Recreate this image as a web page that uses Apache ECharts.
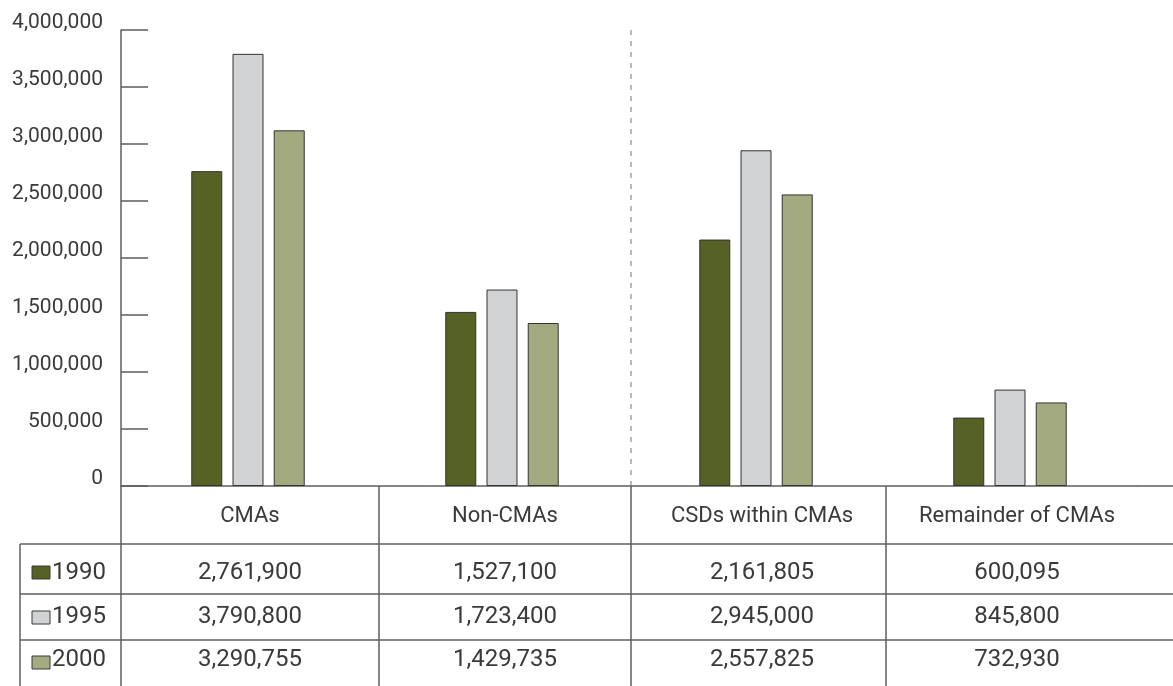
<!DOCTYPE html>
<html>
<head>
<meta charset="utf-8">
<script src="https://cdn.jsdelivr.net/npm/echarts@6/dist/echarts.min.js"></script>
<style>
html,body{margin:0;padding:0;background:#fff;}
#chart{width:1173px;height:686px;}
</style>
</head>
<body>
<div id="chart"></div>
<script>
// Data
const categories = ['CMAs', 'Non-CMAs', 'CSDs within CMAs', 'Remainder of CMAs'];
const years = ['1990', '1995', '2000'];
// bar heights as drawn in the picture
const bars1990 = [2761900, 1527100, 2161805, 600095];
const bars1995 = [3790800, 1723400, 2945000, 845800];
const bars2000 = [3120000, 1429735, 2557825, 732930];
// table texts
const table1990 = ['2,761,900', '1,527,100', '2,161,805', '600,095'];
const table1995 = ['3,790,800', '1,723,400', '2,945,000', '845,800'];
const table2000 = ['3,290,755', '1,429,735', '2,557,825', '732,930'];
const yTicks = [0, 500000, 1000000, 1500000, 2000000, 2500000, 3000000, 3500000, 4000000];

const colors = ['#566125', '#d1d2d4', '#a3aa7f'];
const lineColor = '#5e5e5e';
const textColor = '#3a3a3a';
const font = "Roboto, 'Liberation Sans', Arial, sans-serif";

const chart = echarts.init(document.getElementById('chart'));

function hline(x1, x2, y) {
  return {type: 'line', shape: {x1, y1: y, x2, y2: y}, style: {stroke: lineColor, lineWidth: 1.5}, silent: true, z: 10};
}
function vline(x, y1, y2) {
  return {type: 'line', shape: {x1: x, y1, x2: x, y2}, style: {stroke: lineColor, lineWidth: 1.5}, silent: true, z: 10};
}

const colCenters = [250, 505, 762, 1017];
const rowCenters = [573, 617, 660];
const tables = [table1990, table1995, table2000];
const swatchY = [566, 611, 656];

const graphics = [
  hline(1137, 1173, 486),
  hline(20, 1173, 544),
  hline(20, 1173, 594),
  hline(20, 1173, 640),
  vline(20, 544, 686),
  vline(121, 486, 686),
  vline(379, 486, 686),
  vline(631, 486, 686),
  vline(886, 486, 686),
  {type: 'line', shape: {x1: 631, y1: 30, x2: 631, y2: 485}, style: {stroke: '#8a8a8a', lineWidth: 1.2, lineDash: [5, 6]}, silent: true}
];

categories.forEach((c, i) => {
  graphics.push({type: 'text', x: colCenters[i], y: 516, style: {text: c, font: "22px " + font, fill: textColor, align: 'center', verticalAlign: 'middle'}});
});
tables.forEach((row, r) => {
  row.forEach((t, i) => {
    graphics.push({type: 'text', x: colCenters[i], y: rowCenters[r], style: {text: t, font: "24px " + font, fill: textColor, align: 'center', verticalAlign: 'middle'}});
  });
  graphics.push({type: 'rect', shape: {x: 32, y: swatchY[r], width: 18, height: 13}, style: {fill: colors[r], stroke: '#3a3a3a', lineWidth: 1}});
  graphics.push({type: 'text', x: 52, y: rowCenters[r], style: {text: years[r], font: "24px " + font, fill: textColor, align: 'left', verticalAlign: 'middle'}});
});

const seriesData = [bars1990, bars1995, bars2000];

chart.setOption({
  animation: false,
  backgroundColor: '#fff',
  grid: {left: 121, right: 36, top: 30, bottom: 200, containLabel: false},
  xAxis: {
    type: 'category',
    data: categories,
    axisLine: {show: true, lineStyle: {color: lineColor, width: 1.5}},
    axisTick: {show: false},
    axisLabel: {show: false},
    splitLine: {show: false}
  },
  yAxis: {
    type: 'value',
    min: 0,
    max: 4000000,
    interval: 500000,
    axisLine: {show: true, lineStyle: {color: lineColor, width: 1.5}},
    axisTick: {show: true, inside: true, length: 27, lineStyle: {color: lineColor, width: 1.5}},
    axisLabel: {
      margin: 18,
      color: textColor,
      fontFamily: font,
      fontSize: 21,
      verticalAlign: 'bottom',
      lineHeight: 14,
      formatter: v => yTicks.includes(v) ? v.toLocaleString('en-US') : ''
    },
    splitLine: {show: false}
  },
  series: seriesData.map((d, i) => ({
    name: years[i],
    type: 'bar',
    data: d,
    barWidth: 31,
    barGap: '33%',
    itemStyle: {color: colors[i], borderColor: '#333', borderWidth: 1}
  })),
  graphic: graphics
});
</script>
</body>
</html>
